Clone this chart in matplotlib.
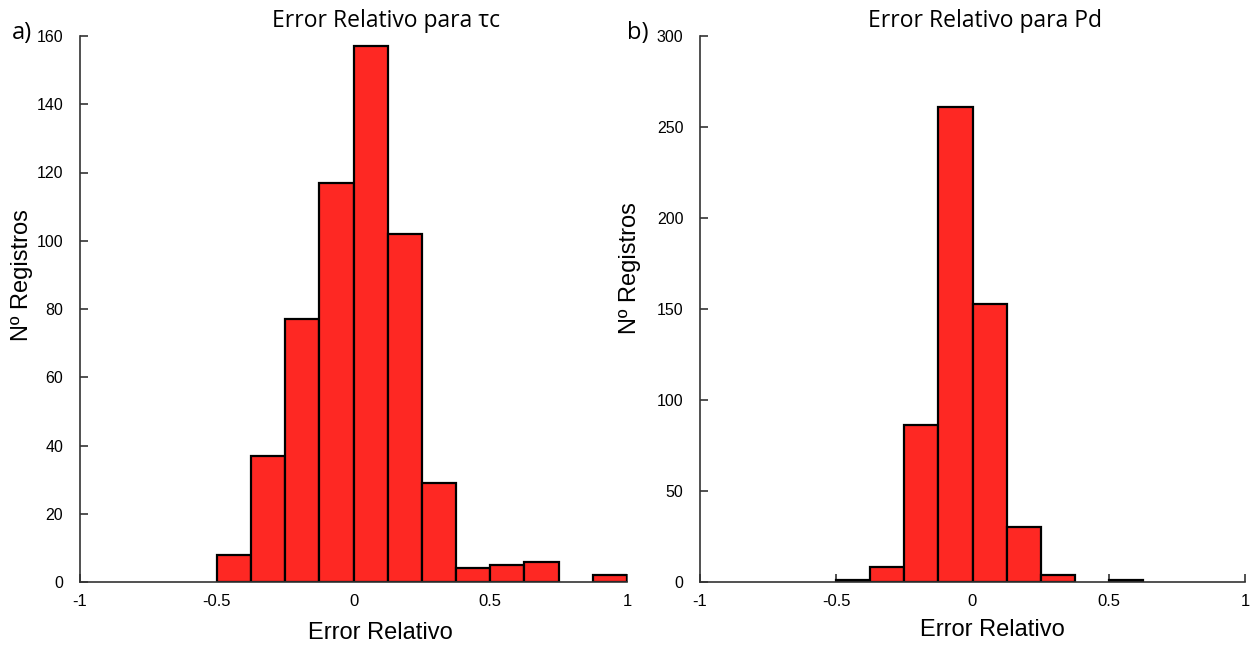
import matplotlib.pyplot as plt
import numpy as np

# bin edges of both histograms (width 0.125 from -1 to 1)
bin_edges = np.linspace(-1, 1, 17)

# counts per bin
counts_tc = [0, 0, 0, 0, 8, 37, 77, 117, 157, 102, 29, 4, 5, 6, 0, 2]
counts_pd = [0, 0, 0, 0, 1, 8, 86, 261, 153, 30, 4, 0, 1, 0, 0, 0]

titles = ['Error Relativo para \u03c4c', 'Error Relativo para Pd']
panel_tags = ['a)', 'b)']
y_max = [160, 300]
y_step = [20, 50]
x_ticks = [-1, -0.5, 0, 0.5, 1]
x_tick_labels = ['-1', '-0.5', '0', '0.5', '1']

bar_color = '#fe2823'
tick_font = 'Liberation Sans'
title_font = 'Open Sans'

fig = plt.figure(figsize=(12.6, 6.46), dpi=100)
ax_a = fig.add_axes([80 / 1260, 64 / 646, 547 / 1260, 546 / 646])
ax_b = fig.add_axes([700 / 1260, 64 / 646, 545 / 1260, 546 / 646])

# label centres per panel, in figure pixels (x from left, y from top)
ylabel_px = [(22, 275), (630, 268)]
xlabel_px = [(380, 633), (992, 630)]
title_px = [(386, 21), (985, 21)]
tag_px = [(22, 33), (638, 33)]


def fpos(p):
    return p[0] / 1260, 1 - p[1] / 646


for i, (ax, counts) in enumerate(zip([ax_a, ax_b], [counts_tc, counts_pd])):
    counts = np.array(counts)
    keep = counts > 0
    ax.bar(bin_edges[:-1][keep], counts[keep], width=0.125, align='edge',
           color=bar_color, edgecolor='black', linewidth=1.6, zorder=3)

    ax.set_xlim(-1, 1)
    ax.set_ylim(0, y_max[i])
    ax.set_xticks(x_ticks)
    ax.set_xticklabels(x_tick_labels, family=tick_font, fontsize=12)
    yt = np.arange(0, y_max[i] + 1, y_step[i])
    ax.set_yticks(yt)
    ax.set_yticklabels([str(v) for v in yt], family=tick_font, fontsize=11.5)
    ax.tick_params(axis='x', direction='in', length=6, width=1.2, pad=9, color='#333333')
    ax.tick_params(axis='y', direction='in', length=6, width=1.2, pad=12, color='#333333')

    for s in ['top', 'right']:
        ax.spines[s].set_visible(False)
    for s in ['left', 'bottom']:
        ax.spines[s].set_color('#333333')
        ax.spines[s].set_linewidth(1.2)
        ax.spines[s].set_zorder(4)

    fig.text(*fpos(ylabel_px[i]), 'N\u00ba Registros', rotation=90, ha='center', va='center',
             family=tick_font, fontsize=17)
    fig.text(*fpos(xlabel_px[i]), 'Error Relativo', ha='center', va='center',
             family=tick_font, fontsize=17)
    fig.text(*fpos(title_px[i]), titles[i], ha='center', va='center',
             family=title_font, fontsize=16.5)
    fig.text(*fpos(tag_px[i]), panel_tags[i], ha='center', va='center',
             family=title_font, fontsize=17)

plt.savefig('out.png', dpi=100)
